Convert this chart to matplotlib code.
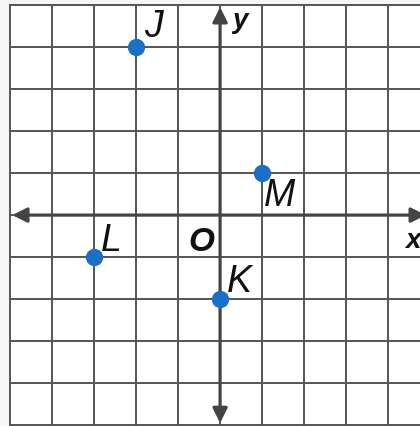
import matplotlib.pyplot as plt
import matplotlib.patches as mpatches
import numpy as np

# points from the picture
names = ['J', 'M', 'L', 'K']
px = [-2, 1, -3, 0]
py = [4, 1, -1, -2]
# label offsets (in grid units)
lx = [0.2, 0.05, 0.15, 0.15]
ly = [0.25, -0.78, 0.15, 0.18]

fig = plt.figure(figsize=(4.2, 4.26), dpi=100, facecolor='#f6f6f6')
ax = fig.add_axes([0, 0, 1, 1])
ax.set_xlim(-5.24, 4.76)
ax.set_ylim(-5.02, 5.12)
ax.axis('off')

# white paper inside the grid
ax.add_patch(mpatches.Rectangle((-5, -6), 11, 11, color='white', zorder=0))

# grid
for gx in range(-5, 5):
    ax.plot([gx, gx], [-5.5, 5], color='#555555', lw=1.4, zorder=1)
for gy in range(-5, 6):
    ax.plot([-5, 5], [gy, gy], color='#555555', lw=1.4, zorder=1)

# axes with arrows
ax.annotate('', xy=(-4.95, 0), xytext=(4.9, 0),
            arrowprops=dict(arrowstyle='<|-|>', color='#444444', lw=2.3,
                            mutation_scale=22, shrinkA=0, shrinkB=0), zorder=2)
ax.annotate('', xy=(0, 4.95), xytext=(0, -4.95),
            arrowprops=dict(arrowstyle='<|-|>', color='#444444', lw=2.3,
                            mutation_scale=22, shrinkA=0, shrinkB=0), zorder=2)

ax.scatter(px, py, s=155, color='#1a6fc9', zorder=3, linewidths=0)

for n, x, y, dx, dy in zip(names, px, py, lx, ly):
    ax.text(x + dx, y + dy, n, fontsize=27, style='italic',
            family='Liberation Sans', color='#111111', zorder=4)

ax.text(-0.76, -0.86, 'O', fontsize=24, style='italic', weight='bold',
        family='Liberation Sans', color='#111111')
ax.text(0.28, 4.45, 'y', fontsize=20, style='italic', weight='bold',
        family='Liberation Sans', color='#111111')
ax.text(4.4, -0.78, 'x', fontsize=20, style='italic', weight='bold',
        family='Liberation Sans', color='#111111')

fig.savefig('out.png', dpi=100, facecolor=fig.get_facecolor())
